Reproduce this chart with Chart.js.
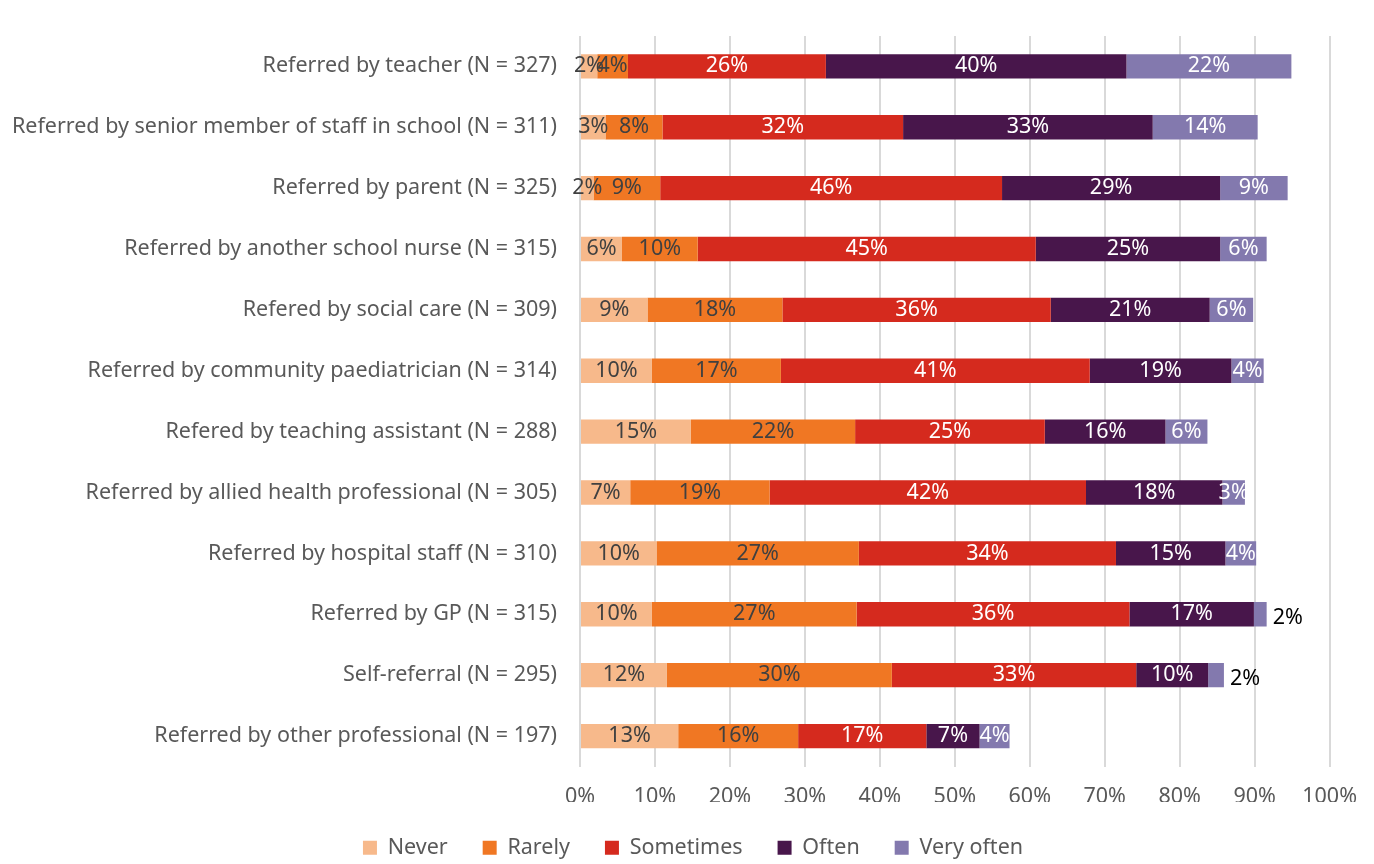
<!DOCTYPE html>
<html>
<head>
<meta charset="utf-8">
<script src="https://cdn.jsdelivr.net/npm/chart.js@4"></script>
<style>
  html, body { margin: 0; padding: 0; background: #fff; }
  #wrap { width: 1374px; height: 864px; position: relative; }
</style>
</head>
<body>
<div id="wrap"><canvas id="referralChart"></canvas></div>
<script>
// Categories (top to bottom) and percentages per answer
const categories = [
    'Referred by teacher (N = 327)',
    'Referred by senior member of staff in school (N = 311)',
    'Referred by parent (N = 325)',
    'Referred by another school nurse (N = 315)',
    'Refered by social care (N = 309)',
    'Referred by community paediatrician (N = 314)',
    'Refered by teaching assistant (N = 288)',
    'Referred by allied health professional (N = 305)',
    'Referred by hospital staff (N = 310)',
    'Referred by GP (N = 315)',
    'Self-referral (N = 295)',
    'Referred by other professional (N = 197)'
];
const never     = [2.3, 3.4, 1.8, 5.6, 9.0, 9.6, 14.8, 6.7, 10.2, 9.6, 11.6, 13.1];
const rarely    = [4.1, 7.6, 8.9, 10.1, 18.0, 17.2, 21.9, 18.6, 27.0, 27.3, 30.0, 16.0];
const sometimes = [26.4, 32.1, 45.6, 45.1, 35.8, 41.2, 25.3, 42.2, 34.3, 36.4, 32.6, 17.1];
const often     = [40.1, 33.3, 29.1, 24.6, 21.2, 18.9, 16.1, 18.2, 14.6, 16.6, 9.6, 7.1];
const veryOften = [22.0, 14.0, 9.0, 6.2, 5.8, 4.3, 5.6, 3.0, 4.1, 1.7, 2.1, 4.0];
const xTicks = [0, 10, 20, 30, 40, 50, 60, 70, 80, 90, 100];

const seriesNames = ['Never', 'Rarely', 'Sometimes', 'Often', 'Very often'];
const seriesColors = ['#F7B98B', '#F07723', '#D52A1E', '#48164B', '#8379AE'];
const labelColors = ['#404040', '#404040', '#ffffff', '#ffffff', '#ffffff'];
const FONT = '"Noto Sans", sans-serif';
const FSIZE = 21.5;

// draws the % value on each segment
const segmentLabels = {
    id: 'segmentLabels',
    afterDatasetsDraw(chart) {
        const ctx = chart.ctx;
        const last = chart.data.datasets.length - 1;
        ctx.save();
        ctx.font = FSIZE + 'px ' + FONT;
        ctx.textBaseline = 'middle';
        chart.data.datasets.forEach((ds, i) => {
            chart.getDatasetMeta(i).data.forEach((bar, j) => {
                const v = ds.data[j];
                const txt = Math.round(v) + '%';
                if (i === last && v < 2.5) {
                    ctx.fillStyle = '#000000';
                    ctx.textAlign = 'left';
                    ctx.fillText(txt, bar.x + 6, bar.y + 4);
                } else {
                    ctx.fillStyle = labelColors[i];
                    ctx.textAlign = 'center';
                    ctx.fillText(txt, (bar.x + bar.base) / 2, bar.y);
                }
            });
        });
        ctx.restore();
    }
};

// legend sits a bit right of the canvas centre in the original
const legendShift = {
    id: 'legendShift',
    afterLayout(chart) {
        chart.legend.left += 28;
        chart.legend.right += 28;
    }
};

const ctx = document.getElementById('referralChart').getContext('2d');
const allSeries = [never, rarely, sometimes, often, veryOften];

const referralChart = new Chart(ctx, {
    type: 'bar',
    data: {
        labels: categories,
        datasets: allSeries.map((vals, i) => ({
            label: seriesNames[i],
            data: vals,
            backgroundColor: seriesColors[i],
            borderWidth: 0,
            barPercentage: 0.4,
            categoryPercentage: 1.0
        }))
    },
    options: {
        indexAxis: 'y',
        responsive: true,
        maintainAspectRatio: false,
        animation: false,
        layout: { padding: { top: 10, right: 44, left: 0, bottom: 0 } },
        scales: {
            x: {
                stacked: true,
                min: 0,
                max: 100,
                afterBuildTicks: (scale) => { scale.ticks = xTicks.map(v => ({ value: v })); },
                afterFit: (scale) => { scale.height = 35.5; },
                grid: { color: '#D9D9D9', lineWidth: 2, drawTicks: false },
                border: { display: false },
                ticks: {
                    padding: 17,
                    color: '#595959',
                    font: { family: FONT, size: FSIZE },
                    callback: (v) => v + '%'
                }
            },
            y: {
                stacked: true,
                afterFit: (scale) => { scale.width = 580; },
                grid: { display: false, drawTicks: false },
                border: { display: false },
                ticks: {
                    padding: 23,
                    color: '#595959',
                    font: { family: FONT, size: FSIZE }
                }
            }
        },
        plugins: {
            legend: {
                position: 'bottom',
                maxHeight: 62,
                labels: {
                    boxWidth: 14,
                    boxHeight: 14,
                    padding: 35,
                    color: '#595959',
                    font: { family: FONT, size: FSIZE }
                }
            },
            tooltip: { enabled: false }
        }
    },
    plugins: [segmentLabels, legendShift]
});
</script>
</body>
</html>
